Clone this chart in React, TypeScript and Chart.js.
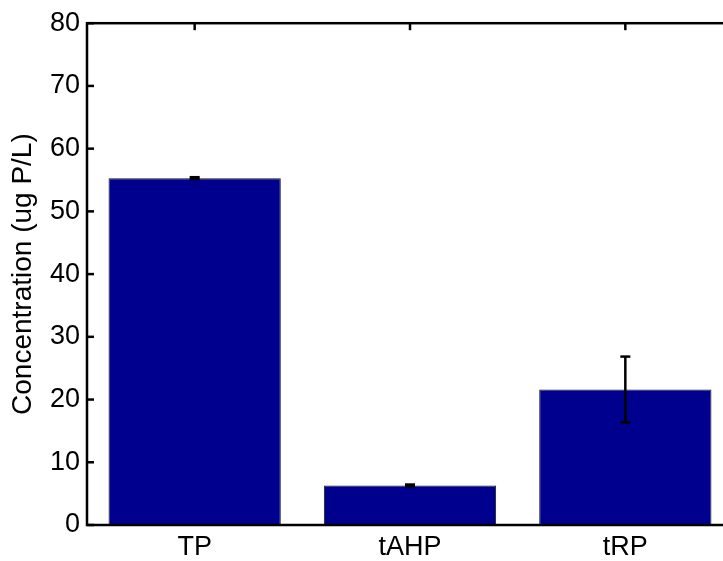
import React, { useEffect, useRef } from "react";
import { Chart, registerables } from "chart.js";

Chart.register(...registerables);

const categories = ["TP", "tAHP", "tRP"];
const values = [55.3, 6.3, 21.6];
const errors = [0.15, 0.15, 5.25];
const yTicks = [0, 10, 20, 30, 40, 50, 60, 70, 80];
const yTitle = "Concentration (ug P/L)";

const FONT = "'Liberation Sans', Arial, Helvetica, sans-serif";

const overlay = {
  id: "overlay",
  afterDatasetsDraw(chart: any) {
    const { ctx, chartArea: a, scales } = chart;
    const x = scales.x;
    const y = scales.y;
    const line = (x1: number, y1: number, x2: number, y2: number) => {
      ctx.beginPath();
      ctx.moveTo(x1, y1);
      ctx.lineTo(x2, y2);
      ctx.stroke();
    };
    ctx.save();
    ctx.strokeStyle = "#000";
    // error bars
    ctx.lineWidth = 2.5;
    values.forEach((v, i) => {
      const px = x.getPixelForValue(i);
      const yt = y.getPixelForValue(v + errors[i]);
      const yb = y.getPixelForValue(v - errors[i]);
      line(px, yt, px, yb);
      line(px - 5, yt, px + 5, yt);
      line(px - 5, yb, px + 5, yb);
    });
    // ticks (inward)
    ctx.lineWidth = 2.5;
    yTicks.forEach((t) => {
      const py = y.getPixelForValue(t);
      line(a.left, py, a.left + 7, py);
      line(a.right, py, a.right - 7, py);
    });
    categories.forEach((_, i) => {
      const px = x.getPixelForValue(i);
      line(px, a.top, px, a.top + 7);
    });
    // frame
    ctx.strokeRect(a.left, a.top, a.right - a.left, a.bottom - a.top);
    ctx.restore();
  },
};

export default function App() {
  const ref = useRef<HTMLCanvasElement | null>(null);
  useEffect(() => {
    if (!ref.current) return;
    Chart.defaults.font.family = FONT;
    Chart.defaults.color = "#000";
    const chart = new Chart(ref.current, {
      type: "bar",
      data: {
        labels: categories,
        datasets: [
          {
            data: values,
            backgroundColor: "#00008F",
            borderColor: "#1a1a1a",
            borderWidth: 1,
            barPercentage: 0.8,
            categoryPercentage: 1,
          },
        ],
      },
      options: {
        responsive: false,
        animation: false,
        devicePixelRatio: 1,
        layout: { padding: { top: 20, right: 27, left: 0, bottom: 0 } },
        plugins: {
          legend: { display: false },
          tooltip: { enabled: false },
        },
        scales: {
          x: {
            grid: { display: false, drawTicks: false },
            border: { display: false },
            ticks: { padding: 6, font: { size: 27 }, color: "#000" },
            afterFit: (s: any) => {
              s.height = 36;
            },
          },
          y: {
            min: 0,
            max: 80,
            grid: { display: false, drawTicks: false },
            border: { display: false },
            ticks: {
              stepSize: 10,
              padding: 7,
              font: { size: 27 },
              color: "#000",
            },
            title: {
              display: true,
              text: yTitle,
              font: { size: 28 },
              color: "#000",
              padding: { top: 6, bottom: 0 },
            },
            afterFit: (s: any) => {
              s.width = 87;
            },
          },
        },
      },
      plugins: [overlay],
    });
    return () => chart.destroy();
  }, []);
  return (
    <div
      style={{
        position: "fixed",
        left: 0,
        top: 0,
        width: 723,
        height: 561,
        overflow: "hidden",
        background: "#fff",
      }}
    >
      <canvas ref={ref} width={760} height={561} style={{ width: 760, height: 561, display: "block" }} />
    </div>
  );
}
